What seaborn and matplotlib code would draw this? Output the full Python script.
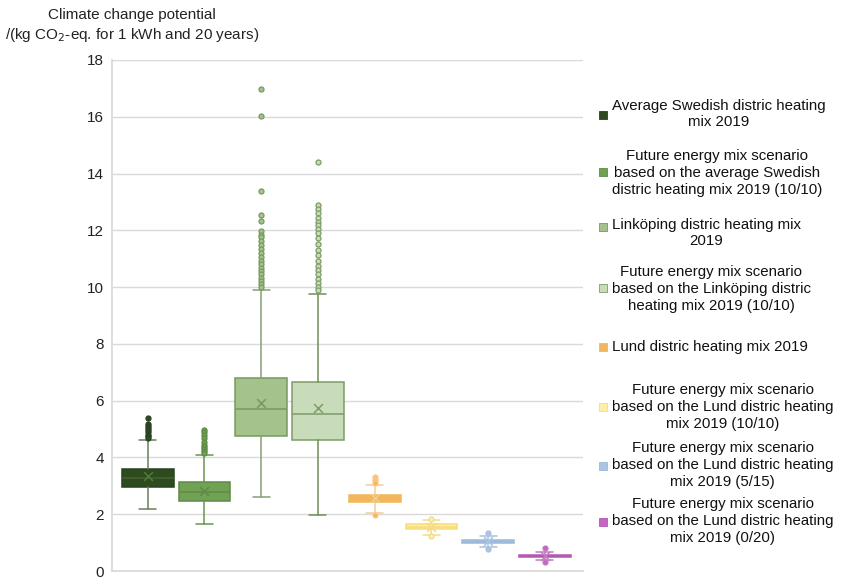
import matplotlib
matplotlib.use("Agg")
import matplotlib.pyplot as plt
import seaborn as sns
import pandas as pd

# Scenario names (legend order = box order)
scenarios = [
    "Average Swedish distric heating\nmix 2019",
    "Future energy mix scenario\nbased on the average Swedish\ndistric heating mix 2019 (10/10)",
    "Linköping distric heating mix\n2019",
    "Future energy mix scenario\nbased on the Linköping distric\nheating mix 2019 (10/10)",
    "Lund distric heating mix 2019",
    "Future energy mix scenario\nbased on the Lund distric heating\nmix 2019 (10/10)",
    "Future energy mix scenario\nbased on the Lund distric heating\nmix 2019 (5/15)",
    "Future energy mix scenario\nbased on the Lund distric heating\nmix 2019 (0/20)",
]

# Box statistics, kg CO2-eq. per kWh over 20 years
q1 = [2.95, 2.46, 4.77, 4.60, 2.42, 1.47, 0.98, 0.49]
median = [3.26, 2.77, 5.72, 5.54, 2.55, 1.55, 1.03, 0.52]
q3 = [3.61, 3.12, 6.81, 6.67, 2.67, 1.66, 1.09, 0.56]
whisker_low = [2.17, 1.65, 2.60, 1.97, 2.03, 1.26, 0.84, 0.39]
whisker_high = [4.60, 4.10, 9.90, 9.75, 3.02, 1.79, 1.23, 0.67]
mean = [3.33, 2.81, 5.93, 5.75, 2.56, 1.56, 1.04, 0.53]
outliers = [
    [5.40, 5.18, 5.10, 5.02, 4.95, 4.88, 4.80, 4.74, 4.68],
    [4.98, 4.90, 4.80, 4.70, 4.55, 4.45, 4.38, 4.30, 4.22, 4.15],
    [16.98, 16.04, 13.37, 12.53, 12.32, 11.96, 11.85, 11.75, 11.62, 11.50,
     11.35, 11.20, 11.05, 10.92, 10.80, 10.68, 10.56, 10.45, 10.33, 10.22,
     10.10, 10.00],
    [14.39, 12.88, 12.75, 12.60, 12.45, 12.30, 12.18, 12.05, 11.90, 11.72,
     11.52, 11.32, 11.12, 10.92, 10.76, 10.60, 10.45, 10.30, 10.15, 10.02, 9.90],
    [3.30, 3.24, 3.17, 3.10, 1.97],
    [1.82, 1.23],
    [1.33, 0.77],
    [0.82, 0.32],
]

fill_colors = ["#2e4a1f", "#71a152", "#a4c38c", "#c9dcb9",
               "#f3b75b", "#fdf0a2", "#aac6e4", "#c366c3"]
edge_colors = ["#2a4220", "#5f8a45", "#779a60", "#7d9c67",
               "#f3b75b", "#f6dc78", "#9db8d8", "#b458b4"]
whisker_colors = ["#6a7f5c", "#6a9450", "#869f74", "#6d8e58",
                  "#f5cc95", "#f3dc86", "#a9c2df", "#c27ac2"]

sns.set_theme(style="whitegrid")
plt.rcParams["font.family"] = ["Liberation Sans", "DejaVu Sans"]

fig = plt.figure(figsize=(8.44, 5.78), dpi=100)
ax = fig.add_axes([0.1327, 0.0121, 0.558, 0.8841])

positions = list(range(len(scenarios)))
for i in positions:
    stats = [{
        "q1": q1[i], "med": median[i], "q3": q3[i],
        "whislo": whisker_low[i], "whishi": whisker_high[i],
        "fliers": [], "mean": mean[i],
    }]
    ax.bxp(
        stats, positions=[i], widths=0.91, patch_artist=True,
        showfliers=False, showmeans=False, capwidths=0.3,
        boxprops=dict(facecolor=fill_colors[i], edgecolor=edge_colors[i], linewidth=1.1),
        medianprops=dict(color=edge_colors[i] if i != 0 else "#44632f", linewidth=1.1),
        whiskerprops=dict(color=whisker_colors[i], linewidth=1.1),
        capprops=dict(color=whisker_colors[i], linewidth=1.1),
        manage_ticks=False,
    )

# Outliers and means
for i in positions:
    df_out = pd.DataFrame({"pos": [i] * len(outliers[i]), "value": outliers[i]})
    sns.scatterplot(data=df_out, x="pos", y="value", ax=ax, s=13, marker="o",
                    color=fill_colors[i], edgecolor=whisker_colors[i] if i > 3 else edge_colors[i],
                    linewidth=0.9, legend=False, zorder=4)
    df_mean = pd.DataFrame({"pos": [i], "value": [mean[i]]})
    sns.scatterplot(data=df_mean, x="pos", y="value", ax=ax, s=40, marker="x",
                    color=whisker_colors[i] if i > 3 else ("#4f7a36" if i == 0 else edge_colors[i]),
                    linewidth=1.1, legend=False, zorder=5)

ax.set_xlim(-0.63, 7.67)
ax.set_ylim(0, 18)
ax.set_yticks(range(0, 19, 2))
ax.set_xticks([])
ax.set_xlabel("")
ax.set_ylabel("")
ax.tick_params(axis="y", labelsize=11, pad=6, length=0, colors="#222222")
ax.grid(axis="y", color="#d9d9d9", linewidth=1.0)
ax.grid(axis="x", visible=False)
for side in ["top", "right"]:
    ax.spines[side].set_visible(False)
ax.spines["left"].set_color("#d9d9d9")
ax.spines["bottom"].set_color("#d9d9d9")
ax.set_facecolor("white")

# Y axis title above the plot
fig.text(132 / 844, 1 - 8 / 578,
         "Climate change potential\n/(kg CO$_2$-eq. for 1 kWh and 20 years)",
         ha="center", va="top", fontsize=11, color="#222222",
         multialignment="center", linespacing=1.3)

# Legend on the right: square markers with centered multi-line labels
text_centers = [114, 173, 233, 289, 347, 407, 465, 521]
square_centers = [115, 172, 227, 288, 347, 407, 466, 522]
for i, label in enumerate(scenarios):
    fig.text(612 / 844, 1 - text_centers[i] / 578, label, ha="left", va="center",
             multialignment="center", fontsize=10.8, color="#111111", linespacing=1.25)
    fig.lines.append(plt.Line2D([603 / 844], [1 - square_centers[i] / 578],
                                transform=fig.transFigure, marker="s", markersize=5.8,
                                markerfacecolor=fill_colors[i],
                                markeredgecolor=edge_colors[i], markeredgewidth=0.6,
                                linestyle="none"))

fig.savefig("out.png", dpi=100, facecolor="white")
